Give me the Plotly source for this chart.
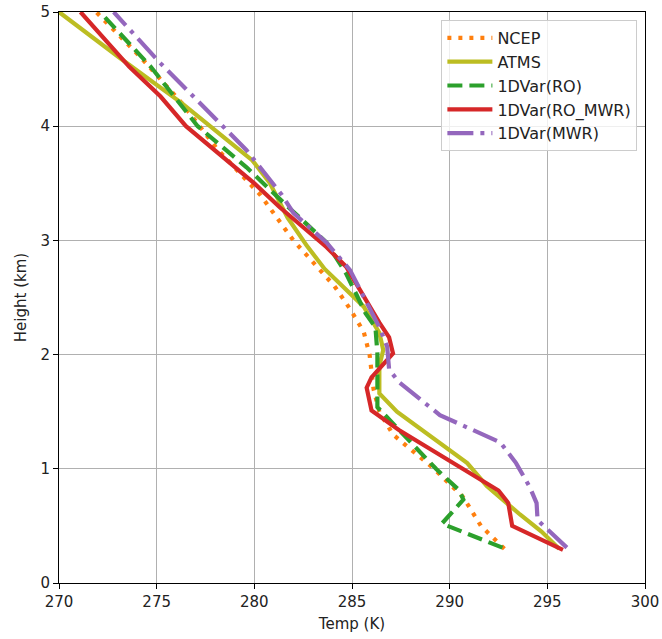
import plotly.graph_objects as go

# NCEP
ncep_h = [0.3, 0.5, 0.75, 1.0, 1.3, 1.5, 1.7, 2.0, 2.2, 2.4, 2.6, 3.0, 3.4, 3.8, 4.2, 4.6, 5.0]
ncep_t = [292.8, 291.6, 290.7, 289.2, 287.1, 286.4, 286.1, 285.9, 285.6, 284.9, 284.1, 282.0, 280.3, 278.1, 276.3, 274.2, 271.9]

# ATMS
atms_h = [0.3, 0.45, 0.6, 0.85, 1.05, 1.28, 1.5, 1.66, 1.9, 2.04, 2.19, 2.42, 2.57, 2.75, 2.95, 3.2, 3.5, 3.7, 3.88, 4.2, 4.6, 5.0]
atms_t = [295.6, 294.7, 293.6, 291.9, 290.9, 289.1, 287.3, 286.4, 286.4, 286.6, 286.4, 285.6, 284.7, 283.6, 282.7, 281.7, 280.8, 279.9, 278.6, 276.3, 273.1, 270.0]

# 1DVar(RO)
ro_h = [0.31, 0.52, 0.73, 0.81, 1.0, 1.54, 1.78, 2.01, 2.24, 2.36, 2.71, 2.98, 3.33, 3.64, 4.0, 4.52, 5.0]
ro_t = [292.7, 289.6, 290.7, 290.5, 289.3, 286.3, 286.3, 286.3, 286.2, 285.7, 284.7, 283.7, 281.5, 279.6, 277.1, 274.7, 272.1]

# 1DVar(RO_MWR)
romwr_h = [0.29, 0.5, 0.7, 0.81, 1.34, 1.51, 1.71, 1.8, 2.01, 2.15, 2.28, 2.63, 2.77, 2.94, 3.29, 3.5, 4.0, 4.26, 4.52, 5.0]
romwr_t = [295.8, 293.2, 293.0, 292.5, 287.4, 286.0, 285.75, 286.0, 287.1, 286.9, 286.4, 285.2, 284.7, 283.7, 281.3, 280.0, 276.5, 275.2, 273.6, 271.1]

# 1DVar(MWR)
mwr_h = [0.31, 0.55, 0.7, 0.84, 1.05, 1.23, 1.47, 1.76, 1.87, 2.07, 2.24, 2.48, 2.74, 2.98, 3.24, 3.4, 3.79, 4.55, 5.0]
mwr_t = [296.0, 294.5, 294.45, 294.1, 293.4, 292.6, 289.5, 287.4, 286.9, 286.8, 286.4, 285.7, 284.9, 283.7, 282.0, 281.4, 279.6, 275.2, 272.8]

x_ticks = [270, 275, 280, 285, 290, 295, 300]
y_ticks = [0, 1, 2, 3, 4, 5]

series = [
    ("NCEP", ncep_t, ncep_h, "#ff7f0e", "4px,7px"),
    ("ATMS", atms_t, atms_h, "#bcbd22", "solid"),
    ("1DVar(RO)", ro_t, ro_h, "#2ca02c", "15px,7px"),
    ("1DVar(RO_MWR)", romwr_t, romwr_h, "#d62728", "solid"),
    ("1DVar(MWR)", mwr_t, mwr_h, "#9467bd", "26px,7px,4px,7px"),
]

fig = go.Figure()
for i, (name, t, h, col, dash) in enumerate(series):
    fig.add_trace(go.Scatter(
        x=t, y=h, mode="lines", name=name, legendgroup=str(i),
        line=dict(color=col, width=4.2, dash=dash),
    ))

axis_common = dict(
    showgrid=True, gridcolor="#b0b0b0", gridwidth=1,
    showline=True, linecolor="black", linewidth=1, mirror=True,
    ticks="outside", ticklen=5, tickcolor="black",
    tickfont=dict(size=15, color="#222222"),
    zeroline=False, automargin=False, ticklabeloverflow="allow",
)

fig.update_layout(
    width=662, height=639,
    margin=dict(l=59, r=17, t=12, b=56),
    paper_bgcolor="white", plot_bgcolor="white",
    font=dict(family="DejaVu Sans", size=15, color="#222222"),
    xaxis=dict(range=[270, 300], tickvals=x_ticks,
               title=dict(text="Temp (K)", standoff=8, font=dict(size=15)), **axis_common),
    yaxis=dict(range=[0, 5], tickvals=y_ticks,
               title=dict(text="Height (km)", standoff=10, font=dict(size=15)), **axis_common),
    legend=dict(
        x=0.987, y=0.986, xanchor="right", yanchor="top",
        bgcolor="rgba(255,255,255,0.8)", bordercolor="#cccccc", borderwidth=1,
        font=dict(size=16, family="DejaVu Sans"), tracegroupgap=0, itemwidth=45,
    ),
    showlegend=True,
)

fig.write_html(
    "out.html",
    config={"displayModeBar": False},
    post_script="document.body.style.margin='0';document.body.style.overflow='hidden';",
)
